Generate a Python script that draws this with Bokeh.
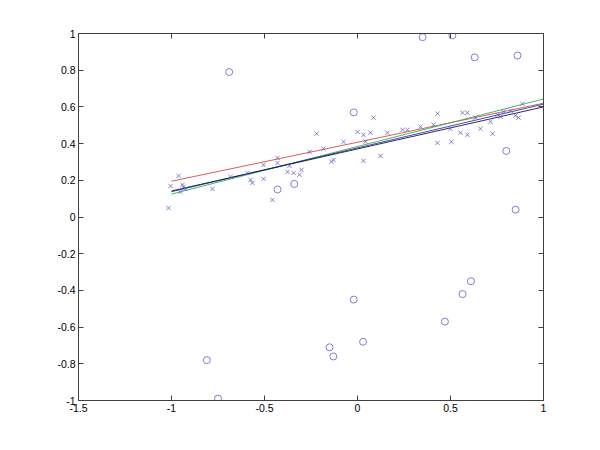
from bokeh.plotting import figure
from bokeh.models import LinearAxis, FixedTicker, Range1d, CustomLabelingPolicy
from bokeh.embed import file_html
from bokeh.resources import INLINE

# crosses (inliers)
cross_x = [-1.016, -1.005, -0.962, -0.941, -0.935, -0.952, -0.925, -0.780, -0.683, -0.591,
           -0.575, -0.565, -0.505, -0.430, -0.430, -0.505, -0.376, -0.366, -0.344, -0.301,
           -0.312, -0.258, -0.183, -0.129, -0.140, -0.075, -0.457, -0.220, 0.086, 0.000,
           0.032, 0.070, 0.043, 0.161, 0.124, 0.032, 0.242, 0.269, 0.339, 0.409,
           0.430, 0.430, 0.500, 0.505, 0.565, 0.591, 0.554, 0.591, 0.661, 0.726,
           0.634, 0.715, 0.753, 0.769, 0.785, 0.823, 0.849, 0.866, 0.887]
cross_y = [0.049, 0.169, 0.224, 0.175, 0.164, 0.137, 0.153, 0.153, 0.219, 0.240,
           0.202, 0.186, 0.284, 0.322, 0.295, 0.208, 0.246, 0.279, 0.240, 0.257,
           0.230, 0.355, 0.372, 0.311, 0.301, 0.410, 0.093, 0.454, 0.541, 0.464,
           0.448, 0.459, 0.410, 0.459, 0.333, 0.306, 0.475, 0.475, 0.492, 0.503,
           0.404, 0.563, 0.481, 0.410, 0.568, 0.568, 0.459, 0.448, 0.481, 0.454,
           0.541, 0.519, 0.557, 0.546, 0.574, 0.579, 0.552, 0.541, 0.617]

# circles (outliers)
circ_x = [-0.69, -0.02, 0.35, 0.51, 0.63, 0.86, 0.80, 0.85, -0.43, -0.34,
          -0.02, -0.15, -0.13, 0.03, 0.47, 0.565, 0.61, -0.81, -0.75]
circ_y = [0.79, 0.57, 0.98, 0.99, 0.87, 0.88, 0.36, 0.04, 0.15, 0.18,
          -0.45, -0.71, -0.76, -0.68, -0.57, -0.42, -0.35, -0.78, -0.99]

# fitted lines: endpoints at x=-1 and x=1
line_x = [-1.0, 1.0]
line_red = [0.195, 0.62]
line_green = [0.125, 0.643]
line_blue = [0.138, 0.615]
line_black = [0.142, 0.600]

x_ticks = [-1.5, -1, -0.5, 0, 0.5, 1]
x_labels = ["-1.5", "-1", "-0.5", "0", "0.5", "1"]
y_ticks = [-1, -0.8, -0.6, -0.4, -0.2, 0, 0.2, 0.4, 0.6, 0.8, 1]
y_labels = ["-1", "-0.8", "-0.6", "-0.4", "-0.2", "0", "0.2", "0.4", "0.6", "0.8", "1"]

p = figure(width=584, height=434, output_backend="svg", toolbar_location=None,
           x_range=Range1d(-1.5, 1), y_range=Range1d(-1, 1),
           x_axis_type=None, y_axis_type=None,
           min_border_left=78, min_border_right=41, min_border_top=33, min_border_bottom=34)
p.grid.visible = False
p.outline_line_color = "#404040"
p.background_fill_color = "white"
p.border_fill_color = "white"

FONT = "Liberation Sans"

def make_axis(ticks, labels, show_labels):
    ax = LinearAxis(ticker=FixedTicker(ticks=ticks))
    ax.major_label_overrides = {t: l for t, l in zip(ticks, labels)}
    ax.minor_tick_line_color = None
    ax.major_tick_in = 5
    ax.major_tick_out = 0
    ax.axis_line_color = "#404040"
    ax.major_tick_line_color = "#404040"
    ax.major_label_text_font = FONT
    ax.major_label_text_font_size = "10.5px"
    ax.major_label_text_color = "#000000"
    ax.major_label_standoff = 3
    if not show_labels:
        ax.major_label_policy = CustomLabelingPolicy(
            code="for (let i = 0; i < indices.size; i++) { indices.unset(i) } return indices")
    return ax

p.add_layout(make_axis(x_ticks, x_labels, True), "below")
p.add_layout(make_axis(y_ticks, y_labels, True), "left")
p.add_layout(make_axis(x_ticks, x_labels, False), "above")
p.add_layout(make_axis(y_ticks, y_labels, False), "right")

p.line(line_x, line_red, line_color="#d84848", line_width=0.9)
p.line(line_x, line_green, line_color="#30b050", line_width=0.9)
p.line(line_x, line_blue, line_color="#3030c8", line_width=0.9)
p.line(line_x, line_black, line_color="#181830", line_width=0.9)

p.scatter(cross_x, cross_y, marker="x", size=6, line_color="#6060c8", line_width=0.8)
p.scatter(circ_x, circ_y, marker="circle", size=7, fill_color=None, line_color="#6060c8", line_width=0.8)

open("out.html", "w").write(file_html(p, INLINE))
